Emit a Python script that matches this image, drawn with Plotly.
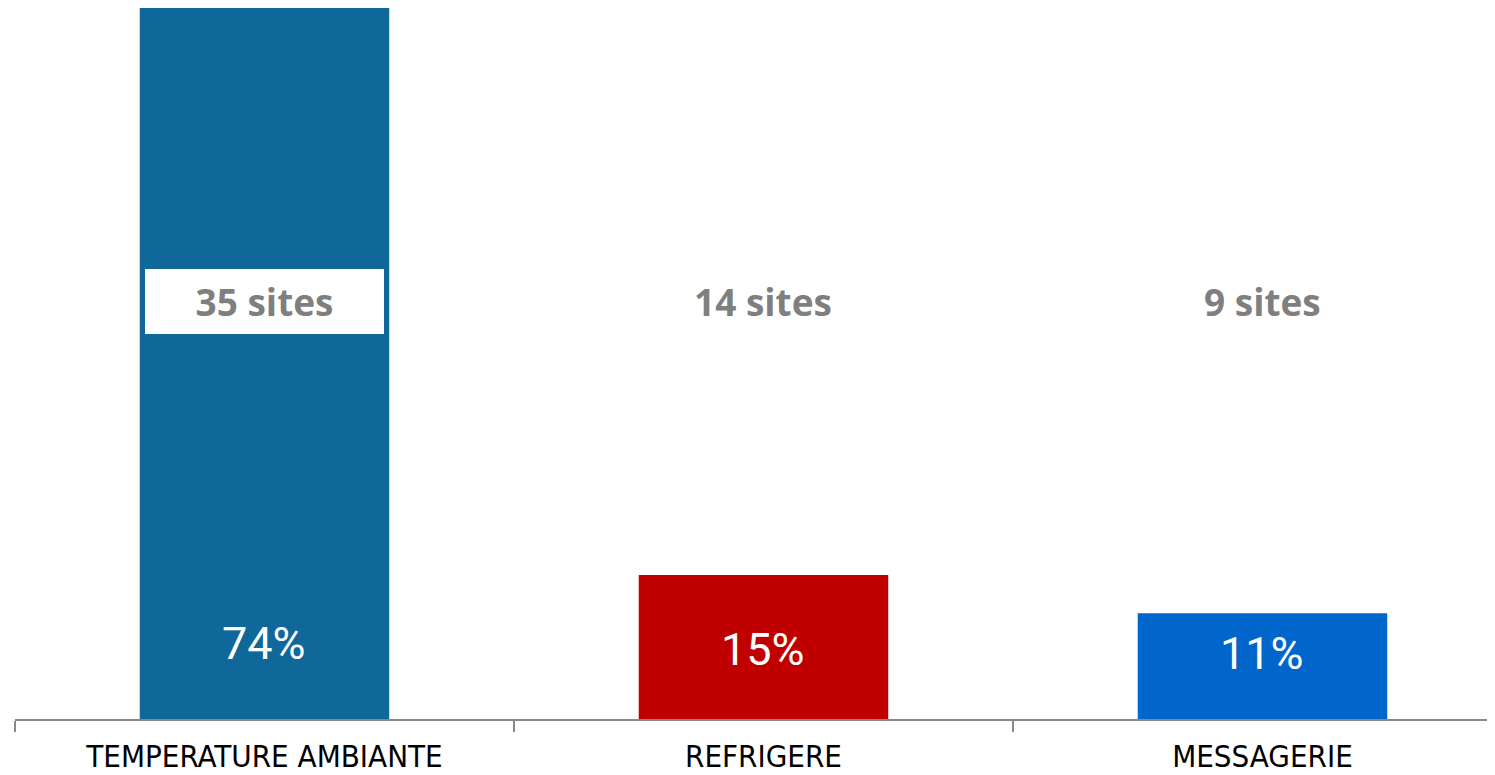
import plotly.graph_objects as go

categories = ["TEMPERATURE AMBIANTE", "REFRIGERE", "MESSAGERIE"]
percentages = [74, 15, 11]
site_counts = [35, 14, 9]

bar_colors = ["#0F6899", "#C00000", "#0066CC"]
pct_label_y = [7.9, 7.2, 6.8]  # label placement inside bars (data units)

fig = go.Figure()
fig.add_trace(go.Bar(
    x=categories,
    y=percentages,
    marker=dict(color=bar_colors, line=dict(width=0)),
    width=0.5,
    hoverinfo="skip",
))

for i, (cat, p, n) in enumerate(zip(categories, percentages, site_counts)):
    fig.add_annotation(
        x=cat, y=pct_label_y[i], xref="x", yref="y",
        text=f"{p}%", showarrow=False,
        font=dict(family="Roboto", size=45, color="white"),
        xanchor="center", yanchor="middle",
    )
    ann = dict(
        x=cat, y=0.5865, xref="x", yref="paper",
        text=f"<b>{n} sites</b>", showarrow=False,
        font=dict(family="Open Sans", size=37, color="#7F7F7F"),
        xanchor="center", yanchor="middle",
    )
    if i == 0:
        ann.update(bgcolor="white", width=239, height=65, borderpad=0, borderwidth=0)
    fig.add_annotation(**ann)

fig.update_layout(
    width=1487, height=767,
    margin=dict(l=7, r=0, t=0, b=56, autoexpand=False),
    plot_bgcolor="white", paper_bgcolor="white",
    showlegend=False,
    bargap=0.5,
)
fig.update_xaxes(
    type="category",
    range=[-0.5, 2.466],
    automargin=False,
    showline=True, linecolor="#898989", linewidth=2,
    ticks="outside", ticklen=11, tickwidth=2, tickcolor="#898989",
    tickson="boundaries",
    ticklabelstandoff=9,
    showgrid=False, zeroline=False,
    tickfont=dict(family="DejaVu Sans Condensed", size=31, color="black"),
)
fig.update_yaxes(
    range=[0, 74], visible=False, showgrid=False, zeroline=False,
    automargin=False,
)

fig.write_html("out.html")
